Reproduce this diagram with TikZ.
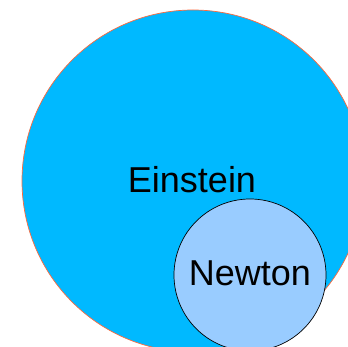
\documentclass[tikz,border=0pt]{standalone}
\usepackage{fontspec}
\setmainfont{Liberation Sans}
\definecolor{bigfill}{HTML}{00B9FF}
\definecolor{bigline}{HTML}{FF6A3C}
\definecolor{smallfill}{HTML}{99CCFF}
\begin{document}
\begin{tikzpicture}[x=1pt,y=-1pt,
  lbl/.style={font=\fontsize{36}{40}\selectfont, inner sep=0pt, anchor=base}]
\useasboundingbox (0,0) rectangle (348,347);
\begin{scope}
\clip (0,0) rectangle (348,347);
\draw[bigline, fill=bigfill, line width=0.7pt] (193,181) circle[radius=171];
\node[lbl] (einstein) at (192,193) {Einstein};
\draw[black, fill=smallfill, line width=0.7pt] (250,275) circle[radius=76];
\node[lbl] (newton) at (250,286) {Newton};
\end{scope}
\end{tikzpicture}
\end{document}
